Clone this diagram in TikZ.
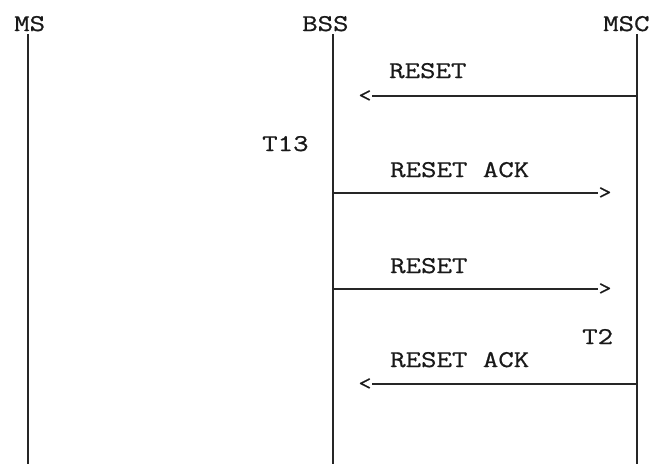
\documentclass[tikz,border=0pt]{standalone}
\usepackage{fontspec}
\setmonofont[FakeStretch=1.25,FakeBold=0.8]{Latin Modern Mono}
\begin{document}
\begin{tikzpicture}[x=1pt,y=-1pt,
  lbl/.style={inner sep=0pt,anchor=base west,font=\ttfamily\fontsize{24}{24}\selectfont,text=black!90},
  tip/.style={inner sep=0pt,anchor=center,font=\ttfamily\fontsize{20}{20}\selectfont,text=black!90},
  life/.style={line width=1.7pt,black!85},
  msg/.style={line width=1.4pt,black!85}]
\useasboundingbox (0,0) rectangle (651,464);
% lifeline heads
\node[lbl] (ms) at (14,31) {MS};
\node[lbl] (bss) at (302,31) {BSS};
\node[lbl] (msc) at (603,31) {MSC};
\coordinate (msT) at (28,34);   \coordinate (msB) at (28,464);
\coordinate (bssT) at (333,34); \coordinate (bssB) at (333,464);
\coordinate (mscT) at (637,34); \coordinate (mscB) at (637,464);
\draw[life] (msT) -- (msB);
\draw[life] (bssT) -- (bssB);
\draw[life] (mscT) -- (mscB);
% message 1: RESET MSC -> BSS
\node[lbl] (m1) at (389,78) {RESET};
\coordinate (m1s) at (637,96);
\node[tip] (t1) at (365,96) {<};
\draw[msg] (m1s) -- (t1.east);
% T13
\node[lbl] (t13) at (262,151) {T13};
% message 2: RESET ACK BSS -> MSC
\node[lbl] (m2) at (390,177) {RESET ACK};
\coordinate (m2s) at (333,193);
\node[tip] (t2) at (605,193) {>};
\draw[msg] (m2s) -- (t2.west);
% message 3: RESET BSS -> MSC
\node[lbl] (m3) at (390,273) {RESET};
\coordinate (m3s) at (333,289);
\node[tip] (t3) at (605,289) {>};
\draw[msg] (m3s) -- (t3.west);
% T2
\node[lbl] (tt2) at (582,344) {T2};
% message 4: RESET ACK MSC -> BSS
\node[lbl] (m4) at (390,367) {RESET ACK};
\coordinate (m4s) at (637,384);
\node[tip] (t4) at (365,384) {<};
\draw[msg] (m4s) -- (t4.east);
\end{tikzpicture}
\end{document}
